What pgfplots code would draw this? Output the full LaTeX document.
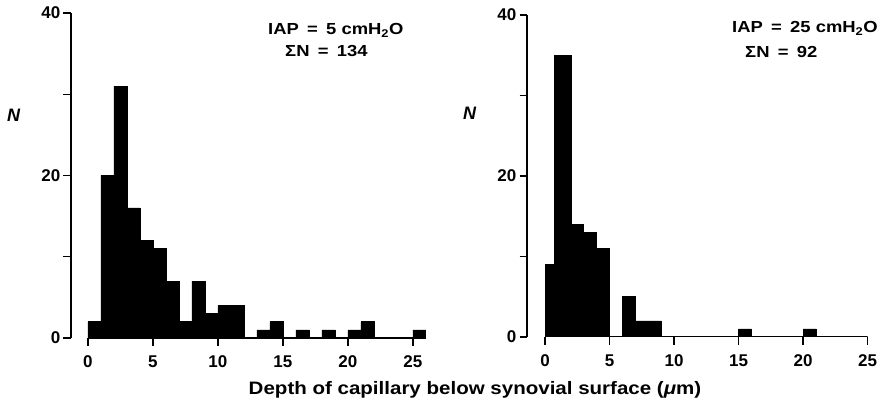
\documentclass[border=0pt]{standalone}
\usepackage{pgfplots}
\pgfplotsset{compat=1.18}
\usepackage{fontspec}
\setmainfont{Liberation Sans}

\pgfplotsset{
  histo/.style={
    scale only axis,
    anchor=south west,
    ymin=0, ymax=40,
    axis x line*=bottom,
    axis y line*=left,
    axis line style={-},
    x axis line style={draw=none},
    y axis line style={line width=1.4pt},
    tick align=outside,
    major tick length=7.5pt,
    tick style={line width=1.4pt, black},
    xtick={0,5,...,25},
    xticklabels={0,5,10,15,20,25},
    ytick={0,10,...,40},
    yticklabels={0,,20,,40},
    tick label style={font=\fontsize{17}{17}\selectfont\bfseries},
    xticklabel style={inner sep=1pt, yshift=-9pt},
    yticklabel style={inner sep=1pt, xshift=-2pt},
  },
  bars/.style={ybar interval, fill=black, draw=black, line width=0.6pt},
}

\begin{document}
\begin{tikzpicture}[x=1pt,y=1pt]
\useasboundingbox (0,0) rectangle (890,404);

% IAP = 5 cmH2O
\begin{axis}[histo, at={(71pt,66pt)}, xmin=-1.3, xmax=26,
  width=354.9pt, height=325pt]
\addplot[bars] coordinates {
  (0,2) (1,20) (2,31) (3,16) (4,12) (5,11) (6,7) (7,2) (8,7) (9,3)
  (10,4) (11,4) (12,0) (13,1) (14,2) (15,0) (16,1) (17,0) (18,1) (19,0)
  (20,1) (21,2) (22,0) (25,1) (26,0)};
\draw[line width=1.4pt] (axis cs:0,0) -- (axis cs:26,0);
\end{axis}

% IAP = 25 cmH2O
\begin{axis}[histo, at={(527pt,67pt)}, xmin=-1.4, xmax=25,
  width=340.6pt, height=322pt]
\addplot[bars] coordinates {
  (0,9) (0.75,35) (2,14) (3,13) (4,11) (5,0) (6,5) (7,2) (9,0)
  (15,1) (16,0) (20,1) (21,0) (25,0)};
\draw[line width=1.4pt] (axis cs:0,0) -- (axis cs:25,0);
\end{axis}

\node[font=\fontsize{18}{18}\selectfont\bfseries\itshape, inner sep=0pt] at (13.5,289) {N};
\node[font=\fontsize{18}{18}\selectfont\bfseries\itshape, inner sep=0pt] at (469.5,291) {N};

\node[font=\fontsize{16}{16}\selectfont\bfseries, anchor=base west, xscale=1.15, inner sep=0pt]
  at (268,369) {IAP\hspace{0.45em}=\hspace{0.45em}5 cmH\textsubscript{2}O};
\node[font=\fontsize{16}{16}\selectfont\bfseries, anchor=base west, xscale=1.15, inner sep=0pt]
  at (285,347) {ΣN\hspace{0.45em}=\hspace{0.45em}134};
\node[font=\fontsize{16}{16}\selectfont\bfseries, anchor=base west, xscale=1.15, inner sep=0pt]
  at (732,371) {IAP\hspace{0.45em}=\hspace{0.45em}25 cmH\textsubscript{2}O};
\node[font=\fontsize{16}{16}\selectfont\bfseries, anchor=base west, xscale=1.15, inner sep=0pt]
  at (745,346) {ΣN\hspace{0.45em}=\hspace{0.45em}92};

\node[font=\fontsize{18}{18}\selectfont\bfseries, anchor=base, xscale=1.14, inner sep=0pt]
  at (475,10) {Depth of capillary below synovial surface ({\itshape μ}m)};
\end{tikzpicture}
\end{document}
